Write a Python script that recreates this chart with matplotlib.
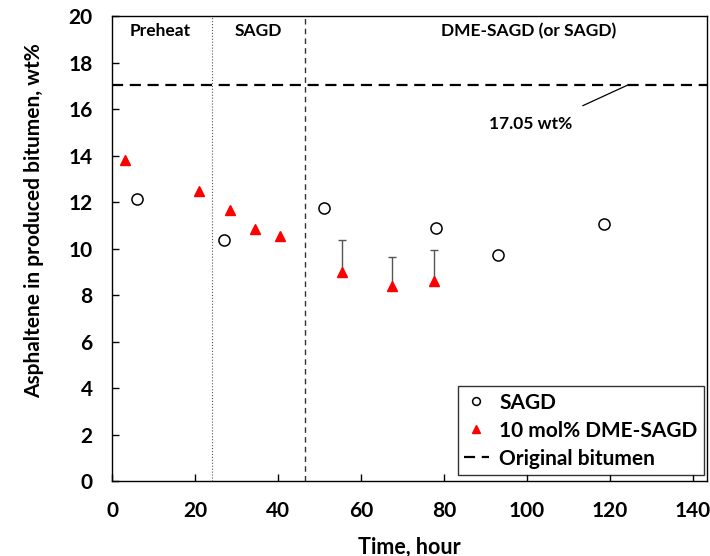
import matplotlib
matplotlib.use("Agg")
import matplotlib.pyplot as plt
import numpy as np

plt.rcParams['font.family'] = ['Lato', 'DejaVu Sans']
plt.rcParams['font.weight'] = 'bold'

sagd_t = [6, 27, 51, 78, 93, 118.5]
sagd_a = [12.15, 10.4, 11.75, 10.9, 9.75, 11.05]

dme_t = [3, 21, 28.5, 34.5, 40.5, 55.5, 67.5, 77.5]
dme_a = [13.8, 12.5, 11.65, 10.85, 10.55, 9.0, 8.4, 8.6]

err_t = [55.5, 67.5, 77.5]
err_a = [9.0, 8.4, 8.6]
err_lo = [0.15, 0.15, 0.15]
err_hi = [1.4, 1.25, 1.35]

original = 17.05
phase_lines = [24, 46.5]

fig = plt.figure(figsize=(7.1, 5.56), dpi=100)
ax = fig.add_axes([0.158, 0.134, 0.838, 0.837])

ax.errorbar(err_t, err_a, yerr=[err_lo, err_hi], fmt='none', ecolor='#555555',
            elinewidth=1.0, capsize=3, capthick=1.0, zorder=2)
ax.plot(sagd_t, sagd_a, 'o', mfc='white', mec='black', ms=8, mew=1.1,
        linestyle='none', label='SAGD', zorder=3)
ax.plot(dme_t, dme_a, '^', color='red', ms=7.5, linestyle='none',
        label='10 mol% DME-SAGD', zorder=3)
ax.axhline(original, color='black', ls=(0, (5, 3)), lw=1.6,
           label='Original bitumen', zorder=1)
ax.axvline(phase_lines[0], color='#555555', ls=':', lw=0.8, zorder=1)
ax.axvline(phase_lines[1], color='#333333', ls=(0, (4, 3)), lw=1.0, zorder=1)

ax.text(101, 15.35, '17.05 wt%', ha='center', va='center', fontsize=12.5, fontweight='bold')
ax.annotate('', xy=(124.5, original), xytext=(113.5, 16.15),
            arrowprops=dict(arrowstyle='-', color='black', lw=0.9,
                            shrinkA=0, shrinkB=0))

ax.text(11.5, 19.35, 'Preheat', ha='center', va='center', fontsize=12.5, fontweight='bold')
ax.text(35.3, 19.35, 'SAGD', ha='center', va='center', fontsize=12.5, fontweight='bold')
ax.text(100.5, 19.35, 'DME-SAGD (or SAGD)', ha='center', va='center', fontsize=12.5, fontweight='bold')

ax.set_xlim(0, 143.5)
ax.set_ylim(0, 20)
ax.set_xticks(np.arange(0, 141, 20))
ax.set_yticks(np.arange(0, 21, 2))
ax.tick_params(direction='in', labelsize=15, length=5, width=1, pad=14)
for lab in ax.get_xticklabels() + ax.get_yticklabels():
    lab.set_fontweight('bold')
ax.set_xlabel('Time, hour', fontsize=15.5, fontweight='bold', labelpad=11)
ax.set_ylabel('Asphaltene in produced bitumen, wt%', fontsize=15, fontweight='bold')
ax.yaxis.set_label_coords(-0.115, 0.56)
for s in ax.spines.values():
    s.set_linewidth(1.0)

leg = ax.legend(loc='lower right', fontsize=15, frameon=True, fancybox=False,
                edgecolor='black', handlelength=1.2, handletextpad=0.5,
                borderpad=0.3, labelspacing=0.38, markerscale=0.7,
                bbox_to_anchor=(0.998, 0.01), borderaxespad=0.1)
leg.get_frame().set_linewidth(1.0)
for t in leg.get_texts():
    t.set_fontweight('bold')

fig.savefig('out.png', dpi=100)
